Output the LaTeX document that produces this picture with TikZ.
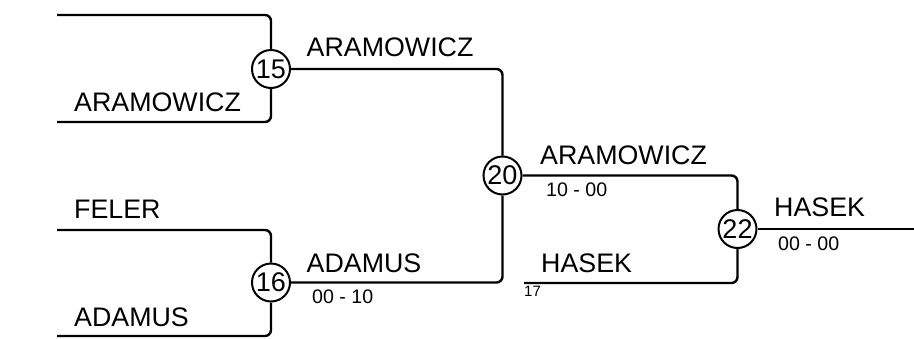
\documentclass[tikz,border=0pt]{standalone}
\usepackage{fontspec}
\setmainfont{Liberation Sans}
\begin{document}
\begin{tikzpicture}[x=1pt,y=-1pt,
  wire/.style={line width=2.4pt,rounded corners=6pt},
  match/.style={circle,draw,line width=2pt,minimum size=38pt,inner sep=0pt,fill=white,font=\fontsize{27}{27}\selectfont},
  plname/.style={anchor=base west,inner sep=0pt,font=\fontsize{26.8}{26.8}\selectfont},
  score/.style={anchor=base west,inner sep=0pt,font=\fontsize{19.6}{19.6}\selectfont},
  seed/.style={anchor=base west,inner sep=0pt,font=\fontsize{15}{15}\selectfont}]
\useasboundingbox (0,0) rectangle (914,338);
% match nodes
\node[match] (c15) at (271,69) {15};
\node[match] (c16) at (271,282.5) {16};
\node[match] (c20) at (502.5,175.5) {20};
\node[match] (c22) at (737.5,229) {22};
% free ends
\coordinate (a1) at (57,15);
\coordinate (a2) at (57,122);
\coordinate (b1) at (57,230);
\coordinate (b2) at (57,336);
\coordinate (h1) at (524,283);
\coordinate (e) at (914,229);
% connectors
\draw[wire] (a1) -| (c15.north);
\draw[wire] (a2) -| (c15.south);
\draw[wire] (b1) -| (c16.north);
\draw[wire] (b2) -| (c16.south);
\draw[wire] (c15.east) -| (c20.north);
\draw[wire] (c16.east) -| (c20.south);
\draw[wire] (c20.east) -| (c22.north);
\draw[wire] (h1) -| (c22.south);
\draw[wire] (c22.east) -- (e);
% labels
\node[plname] (l1) at (74,111) {ARAMOWICZ};
\node[plname] (l2) at (74,218) {FELER};
\node[plname] (l3) at (74,326) {ADAMUS};
\node[plname] (l4) at (306.5,56.7) {ARAMOWICZ};
\node[plname] (l5) at (306.5,272) {ADAMUS};
\node[score] (s5) at (312,303) {00 - 10};
\node[plname] (l6) at (540,164) {ARAMOWICZ};
\node[score] (s6) at (546,196) {10 - 00};
\node[plname] (l7) at (541,272.5) {HASEK};
\node[seed] (s7) at (524,296.7) {17};
\node[plname] (l8) at (774,216) {HASEK};
\node[score] (s8) at (778,250.7) {00 - 00};
\end{tikzpicture}
\end{document}
